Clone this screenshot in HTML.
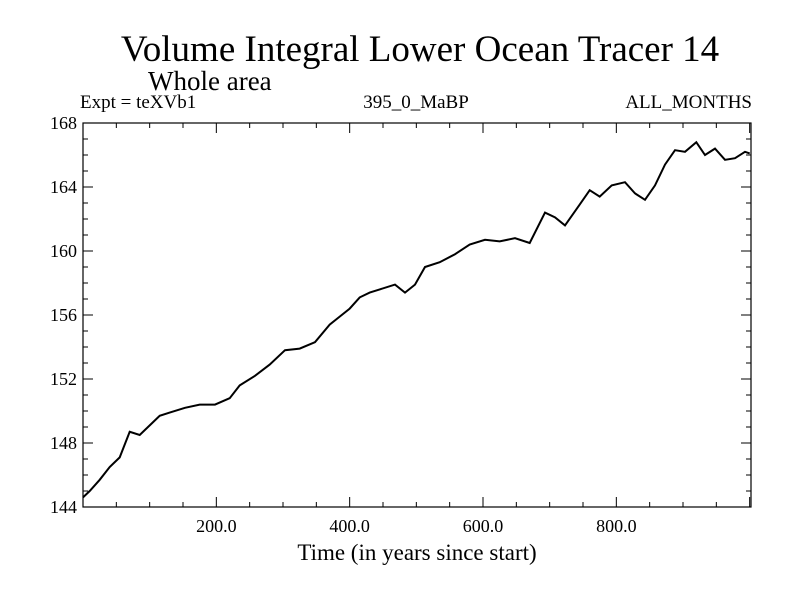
<!DOCTYPE html>
<html><head><meta charset="utf-8"><style>body{margin:0;background:#fff}svg text{font-family:"Liberation Serif",serif;fill:#000}</style></head>
<body>
<svg id="c" width="800" height="600">
<text x="420" y="61" font-size="37" text-anchor="middle">Volume Integral Lower Ocean Tracer 14</text>
<text x="148" y="90" font-size="27">Whole area</text>
<text x="80" y="108" font-size="19">Expt = teXVb1</text>
<text x="416" y="108" font-size="19" text-anchor="middle">395_0_MaBP</text>
<text x="752" y="108" font-size="19" text-anchor="end">ALL_MONTHS</text>
<text x="417" y="560" font-size="23" text-anchor="middle">Time (in years since start)</text>
<g id="ax"></g>
<path id="ln" fill="none" stroke="#000" stroke-width="2"></path>
</svg>
<script>
const years=[0,10,25,40,55,70,85,100,115,130,153,175,198,220,235,258,280,303,325,348,370,385,400,415,430,445,468,483,498,513,535,558,580,603,625,648,670,693,708,723,745,760,775,793,813,828,843,858,873,888,903,920,933,948,963,978,993,1000];
const values=[144.6,145,145.7,146.5,147.1,148.7,148.5,149.1,149.7,149.9,150.2,150.4,150.4,150.8,151.6,152.2,152.9,153.8,153.9,154.3,155.4,155.9,156.4,157.1,157.4,157.6,157.9,157.4,157.9,159,159.3,159.8,160.4,160.7,160.6,160.8,160.5,162.4,162.1,161.6,162.9,163.8,163.4,164.1,164.3,163.6,163.2,164.1,165.4,166.3,166.2,166.8,166,166.4,165.7,165.8,166.2,166.1];
const yTicks=[144,148,152,156,160,164,168];
const xTicks=[200,400,600,800];
const L=83,R=751,T=123,B=507,X0=0,X1=1002,Y0=144,Y1=168;
const sx=v=>L+(v-X0)/(X1-X0)*(R-L), sy=v=>B-(v-Y0)/(Y1-Y0)*(B-T);
const NS='http://www.w3.org/2000/svg',ax=document.getElementById('ax');
function mk(t,a){const e=document.createElementNS(NS,t);for(const k in a)e.setAttribute(k,a[k]);ax.appendChild(e);return e;}
const fr=mk('rect',{x:L,y:T,width:R-L,height:B-T,fill:'none',stroke:'#000','stroke-width':1.2});


let d='';
for(let v=Y0;v<=Y1;v++){const y=sy(v),len=(v%4===0)?10:5;d+=`M${L} ${y}h${len}M${R} ${y}h${-len}`;}
for(let v=50;v<X1;v+=50){const x=sx(v),len=(v%200===0)?10:5;d+=`M${x} ${B}v${-len}M${x} ${T}v${len}`;}
const tk=mk('path',{d:d,stroke:'#000','stroke-width':1,fill:'none'});


yTicks.forEach(v=>{const t=mk('text',{x:L-6,y:sy(v)+6,'font-size':18,'text-anchor':'end'});t.textContent=v;

});
xTicks.forEach(v=>{const t=mk('text',{x:sx(v),y:B+25,'font-size':18,'text-anchor':'middle'});t.textContent=v.toFixed(1);

});
document.getElementById('ln').setAttribute('d',years.map((y,i)=>(i?'L':'M')+sx(y).toFixed(1)+' '+sy(values[i]).toFixed(1)).join(''));
</script>
</body></html>
